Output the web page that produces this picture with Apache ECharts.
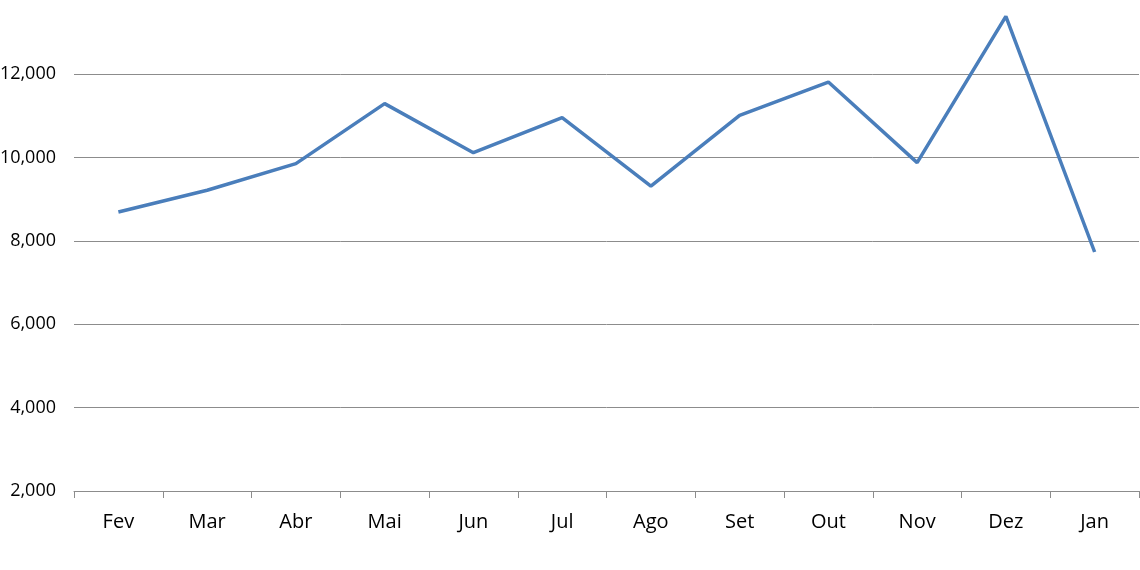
<!DOCTYPE html>
<html>
<head>
<meta charset="utf-8">
<script src="https://cdn.jsdelivr.net/npm/echarts@6/dist/echarts.min.js"></script>
<style>
    html, body { margin: 0; padding: 0; background: #fff; }
    #chart { width: 1140px; height: 570px; }
</style>
</head>
<body>
<div id="chart"></div>
<script>
// dados
var meses = ['Fev', 'Mar', 'Abr', 'Mai', 'Jun', 'Jul', 'Ago', 'Set', 'Out', 'Nov', 'Dez', 'Jan'];
var valores = [8696, 9217, 9857, 11297, 10120, 10960, 9319, 11016, 11815, 9880, 13392, 7736];
var eixoY = { min: 2000, max: 14000, passo: 2000 };

var myChart = echarts.init(document.getElementById('chart'));
var option = {
    backgroundColor: '#fff',
    animation: false,
    grid: {
        left: 74,
        right: 1,
        top: -9,
        bottom: 79,
        containLabel: false,
        outerBoundsMode: 'none'
    },
    xAxis: {
        type: 'category',
        data: meses,
        boundaryGap: true,
        axisLine: {
            show: true,
            lineStyle: { color: '#8c8c8c', width: 1 }
        },
        axisTick: {
            show: true,
            length: 7,
            lineStyle: { color: '#8c8c8c' }
        },
        axisLabel: {
            color: '#000',
            fontSize: 20,
            fontFamily: 'Open Sans',
            margin: 21
        },
        splitLine: { show: false }
    },
    yAxis: {
        type: 'value',
        min: eixoY.min,
        max: eixoY.max,
        interval: eixoY.passo,
        axisLine: { show: false },
        axisTick: { show: false },
        axisLabel: {
            color: '#000',
            fontSize: 18,
            fontFamily: 'Open Sans',
            margin: 18,
            showMaxLabel: false,
            formatter: function (v) {
                return v.toLocaleString('en-US');
            }
        },
        splitLine: {
            show: true,
            lineStyle: { color: '#8c8c8c', width: 1 }
        }
    },
    series: [{
        type: 'line',
        data: valores,
        symbol: 'none',
        lineStyle: { color: '#4a7ebb', width: 3.5 },
        itemStyle: { color: '#4a7ebb' }
    }]
};
myChart.setOption(option);
</script>
</body>
</html>
